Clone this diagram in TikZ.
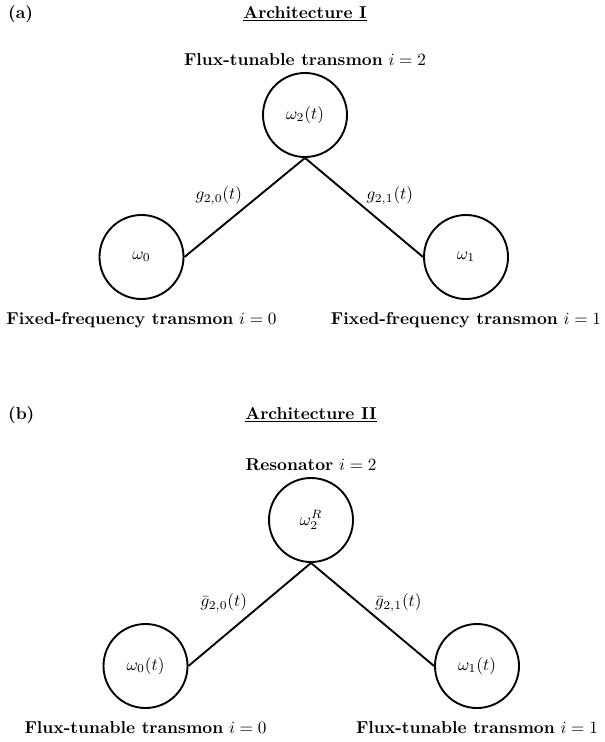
\documentclass[tikz,border=0pt]{standalone}
\usepackage{tikz}
\usetikzlibrary{positioning,shapes,arrows,calc}
\tikzstyle{every text node part}=[font=\fontsize{10}{11}\selectfont]
\tikzstyle{qubit}=[draw,line width=1.1pt,circle,minimum size=48.9pt,inner sep=0pt]

\begin{document}
\begin{tikzpicture}[x=0.582pt,y=-0.582pt,
    label distance=0pt
]
      \useasboundingbox (0,0) rectangle (605,742);

      % (a) architecture I
      \node [anchor=west] (taga) at (2,14) {\textbf{(a)}};
      \node (titlea) at (305,14) {\underline{\textbf{Architecture I}}};

      \node [qubit,label={90:\textbf{Flux-tunable transmon} $i=2$}] (a2) at (305,115) {$\omega_2(t)$};
      \node [qubit,label={[label distance=4pt]270:\textbf{Fixed-frequency transmon} $i=0$}] (a0) at (141.5,257) {$\omega_0$};
      \node [qubit,label={[label distance=4pt]270:\textbf{Fixed-frequency transmon} $i=1$}] (a1) at (466,257) {$\omega_1$};

      \draw [line width=1.1pt] (a0.east) -- (a2.south) node [midway,above left,inner sep=1pt] {$g_{2,0}(t)$}
                    -- (a1.west) node [midway,above right,inner sep=1pt] {$g_{2,1}(t)$};

      % (b) architecture II
      \node [anchor=west] (tagb) at (2,415) {\textbf{(b)}};
      \node (titleb) at (311,415) {\underline{\textbf{Architecture II}}};

      \node [qubit,label={90:\textbf{Resonator} $i=2$}] (b2) at (311,520) {$\omega_2^R$};
      \node [qubit,label={[label distance=4pt]270:\textbf{Flux-tunable transmon} $i=0$}] (b0) at (145.5,666) {$\omega_0(t)$};
      \node [qubit,label={[label distance=4pt]270:\textbf{Flux-tunable transmon} $i=1$}] (b1) at (477,666) {$\omega_1(t)$};

      \draw [line width=1.1pt] (b0.east) -- (b2.south) node [midway,above left,inner sep=1pt] {$\bar{g}_{2,0}(t)$}
                    -- (b1.west) node [midway,above right,inner sep=1pt] {$\bar{g}_{2,1}(t)$};

\end{tikzpicture}
\end{document}
